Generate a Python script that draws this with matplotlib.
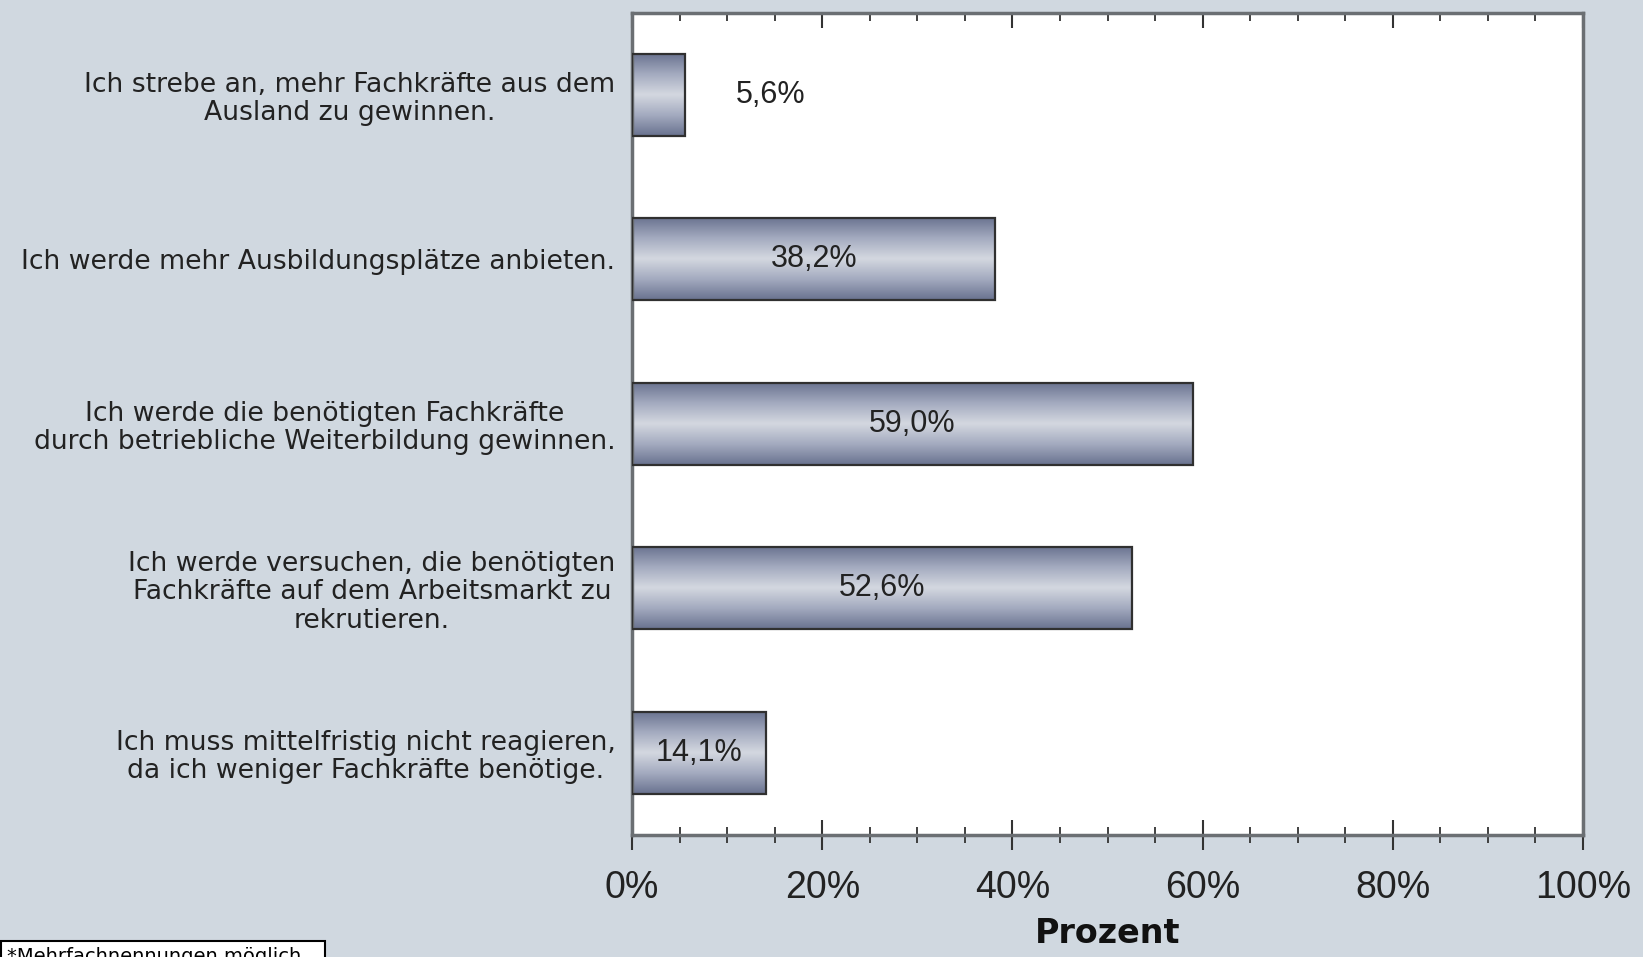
import numpy as np
import matplotlib
matplotlib.use('Agg')
import matplotlib.pyplot as plt
from matplotlib.colors import LinearSegmentedColormap
from matplotlib.ticker import MultipleLocator

# Daten
kategorien = [
    'Ich strebe an, mehr Fachkräfte aus dem\nAusland zu gewinnen.',
    'Ich werde mehr Ausbildungsplätze anbieten.',
    'Ich werde die benötigten Fachkräfte\ndurch betriebliche Weiterbildung gewinnen.',
    'Ich werde versuchen, die benötigten\nFachkräfte auf dem Arbeitsmarkt zu\nrekrutieren.',
    'Ich muss mittelfristig nicht reagieren,\nda ich weniger Fachkräfte benötige.',
]
werte = [5.6, 38.2, 59.0, 52.6, 14.1]
beschriftungen = ['5,6%', '38,2%', '59,0%', '52,6%', '14,1%']
x_ticks = [0, 20, 40, 60, 80, 100]
x_ticklabels = ['0%', '20%', '40%', '60%', '80%', '100%']

hintergrund = '#d0d8e0'
fig = plt.figure(figsize=(16.43, 9.57), dpi=100, facecolor=hintergrund)
ax = fig.add_axes([0.3847, 0.1275, 0.5788, 0.8593])
ax.set_facecolor('white')

# Farbverlauf für die Balken
cmap = LinearSegmentedColormap.from_list(
    'balken', ['#69728f', '#a3aabf', '#d4d8e0', '#a3aabf', '#69728f'])
grad = np.linspace(0, 1, 256).reshape(-1, 1)

hoehe = 0.5
pos = np.arange(len(werte))
for i, (p, w) in enumerate(zip(pos, werte)):
    ax.imshow(grad, extent=[0, w, p + hoehe / 2, p - hoehe / 2], cmap=cmap,
              aspect='auto', zorder=2, interpolation='bicubic')
    ax.barh(p, w, height=hoehe, color='none', edgecolor='#303030',
            linewidth=1.6, zorder=3)
    if w < 10:
        ax.text(w + 9, p, beschriftungen[i], ha='center', va='center',
                fontsize=22, family='Liberation Sans', color='#222222', zorder=4)
    else:
        ax.text(w / 2, p, beschriftungen[i], ha='center', va='center',
                fontsize=22, family='Liberation Sans', color='#222222', zorder=4)

ax.set_xlim(0, 100)
ax.set_ylim(len(werte) - 0.5, -0.5)
ax.set_yticks(pos)
ax.set_yticklabels(kategorien, fontsize=19.2, color='#222222',
                   linespacing=1.12, family='DejaVu Sans')
for lbl in ax.get_yticklabels():
    lbl.set_multialignment('center')
ax.tick_params(axis='y', length=0, pad=12)

ax.set_xticks(x_ticks)
ax.set_xticklabels(x_ticklabels, fontsize=27, family='Liberation Sans',
                   color='#222222')
ax.xaxis.set_minor_locator(MultipleLocator(5))
ax.tick_params(axis='x', which='major', direction='inout', length=22,
               width=1.5, color='#333333', pad=14)
ax.tick_params(axis='x', which='minor', direction='inout', length=11,
               width=1.3, color='#333333')

# obere Achse: Striche nur nach innen
oben = ax.secondary_xaxis('top')
oben.set_xticks(x_ticks)
oben.xaxis.set_minor_locator(MultipleLocator(5))
oben.tick_params(axis='x', which='major', direction='in', length=11,
                 width=1.5, color='#333333', labeltop=False)
oben.tick_params(axis='x', which='minor', direction='in', length=6,
                 width=1.3, color='#333333')
oben.spines['top'].set_visible(False)

for s in ax.spines.values():
    s.set_color('#6b6f73')
    s.set_linewidth(2.5)

ax.set_xlabel('Prozent', fontsize=24, fontweight='bold', family='DejaVu Sans',
              labelpad=8, color='#111111')

fig.text(0.004, 0.0105, '*Mehrfachnennungen möglich   ', fontsize=14,
         family='DejaVu Sans', va='top', ha='left',
         bbox=dict(facecolor='white', edgecolor='black', linewidth=1.5,
                   boxstyle='square,pad=0.3'))

fig.savefig('out.png', dpi=100, facecolor=hintergrund)
